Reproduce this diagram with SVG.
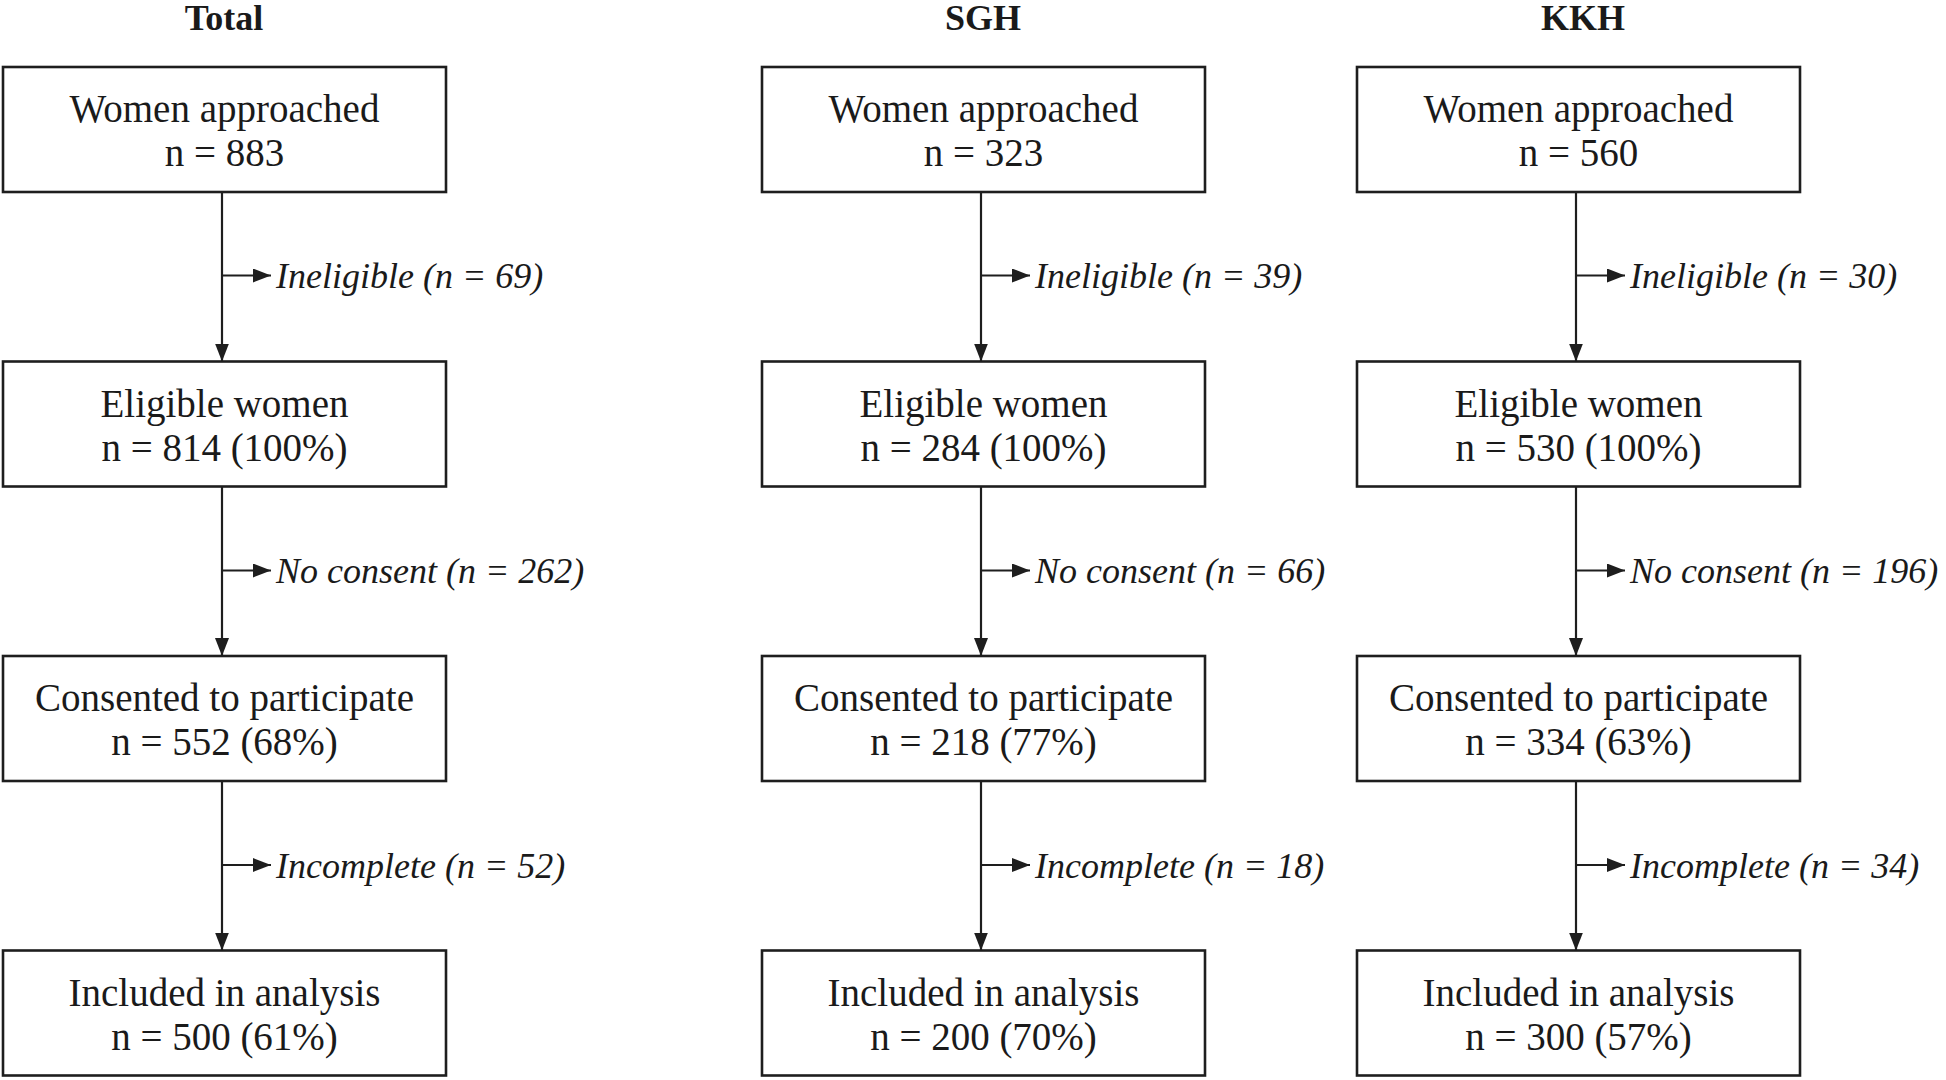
<svg xmlns="http://www.w3.org/2000/svg" width="1946" height="1080" viewBox="0 0 1946 1080">
<style>
.bg{fill:#ffffff}
.box{fill:#ffffff;stroke:#1e1e1e;stroke-width:2.6}
.t{font-family:"Liberation Serif",serif;font-size:39px;fill:#1a1a1a;text-anchor:middle}
.lbl{font-family:"Liberation Serif",serif;font-size:36px;font-style:italic;fill:#1a1a1a}
.title{font-family:"Liberation Serif",serif;font-size:36px;font-weight:bold;fill:#1a1a1a;text-anchor:middle}
.c{stroke:#1e1e1e;stroke-width:2.2;fill:none;marker-end:url(#ah)}
</style>
<defs>
<marker id="ah" viewBox="0 0 18 14" refX="18" refY="7" markerWidth="18" markerHeight="14" markerUnits="userSpaceOnUse" orient="auto">
<path d="M0,0 L18,7 L0,14 Z" fill="#1e1e1e"/>
</marker>
</defs>
<rect class="bg" x="0" y="0" width="1946" height="1080"/>

<g id="titles">
<text class="title" x="224" y="30">Total</text>
<text class="title" x="983" y="30">SGH</text>
<text class="title" x="1583" y="30">KKH</text>
</g>

<!-- Total column -->
<g id="total-approached"><rect class="box" x="3" y="67" width="443" height="125"/><text class="t" x="224.5" y="122">Women approached</text><text class="t" x="224.5" y="166">n = 883</text></g>
<g id="total-eligible"><rect class="box" x="3" y="361.5" width="443" height="125"/><text class="t" x="224.5" y="416.5">Eligible women</text><text class="t" x="224.5" y="460.5">n = 814 (100%)</text></g>
<g id="total-consented"><rect class="box" x="3" y="656" width="443" height="125"/><text class="t" x="224.5" y="711">Consented to participate</text><text class="t" x="224.5" y="755">n = 552 (68%)</text></g>
<g id="total-included"><rect class="box" x="3" y="950.5" width="443" height="125"/><text class="t" x="224.5" y="1005.5">Included in analysis</text><text class="t" x="224.5" y="1049.5">n = 500 (61%)</text></g>

<!-- SGH column -->
<g id="sgh-approached"><rect class="box" x="762" y="67" width="443" height="125"/><text class="t" x="983.5" y="122">Women approached</text><text class="t" x="983.5" y="166">n = 323</text></g>
<g id="sgh-eligible"><rect class="box" x="762" y="361.5" width="443" height="125"/><text class="t" x="983.5" y="416.5">Eligible women</text><text class="t" x="983.5" y="460.5">n = 284 (100%)</text></g>
<g id="sgh-consented"><rect class="box" x="762" y="656" width="443" height="125"/><text class="t" x="983.5" y="711">Consented to participate</text><text class="t" x="983.5" y="755">n = 218 (77%)</text></g>
<g id="sgh-included"><rect class="box" x="762" y="950.5" width="443" height="125"/><text class="t" x="983.5" y="1005.5">Included in analysis</text><text class="t" x="983.5" y="1049.5">n = 200 (70%)</text></g>

<!-- KKH column -->
<g id="kkh-approached"><rect class="box" x="1357" y="67" width="443" height="125"/><text class="t" x="1578.5" y="122">Women approached</text><text class="t" x="1578.5" y="166">n = 560</text></g>
<g id="kkh-eligible"><rect class="box" x="1357" y="361.5" width="443" height="125"/><text class="t" x="1578.5" y="416.5">Eligible women</text><text class="t" x="1578.5" y="460.5">n = 530 (100%)</text></g>
<g id="kkh-consented"><rect class="box" x="1357" y="656" width="443" height="125"/><text class="t" x="1578.5" y="711">Consented to participate</text><text class="t" x="1578.5" y="755">n = 334 (63%)</text></g>
<g id="kkh-included"><rect class="box" x="1357" y="950.5" width="443" height="125"/><text class="t" x="1578.5" y="1005.5">Included in analysis</text><text class="t" x="1578.5" y="1049.5">n = 300 (57%)</text></g>

<g id="connectors">
<path class="c" d="M222,192 V361.5"/>
<path class="c" d="M222,486.5 V656"/>
<path class="c" d="M222,781 V950.5"/>
<path class="c" d="M222,275.5 H271"/>
<path class="c" d="M222,570.5 H271"/>
<path class="c" d="M222,865 H271"/>

<path class="c" d="M981,192 V361.5"/>
<path class="c" d="M981,486.5 V656"/>
<path class="c" d="M981,781 V950.5"/>
<path class="c" d="M981,275.5 H1030"/>
<path class="c" d="M981,570.5 H1030"/>
<path class="c" d="M981,865 H1030"/>

<path class="c" d="M1576,192 V361.5"/>
<path class="c" d="M1576,486.5 V656"/>
<path class="c" d="M1576,781 V950.5"/>
<path class="c" d="M1576,275.5 H1625"/>
<path class="c" d="M1576,570.5 H1625"/>
<path class="c" d="M1576,865 H1625"/>
</g>

<g id="labels">
<text class="lbl" x="276" y="288">Ineligible (n = 69)</text>
<text class="lbl" x="276" y="583">No consent (n = 262)</text>
<text class="lbl" x="276" y="877.5">Incomplete (n = 52)</text>
<text class="lbl" x="1035" y="288">Ineligible (n = 39)</text>
<text class="lbl" x="1035" y="583">No consent (n = 66)</text>
<text class="lbl" x="1035" y="877.5">Incomplete (n = 18)</text>
<text class="lbl" x="1630" y="288">Ineligible (n = 30)</text>
<text class="lbl" x="1630" y="583">No consent (n = 196)</text>
<text class="lbl" x="1630" y="877.5">Incomplete (n = 34)</text>
</g>
</svg>
